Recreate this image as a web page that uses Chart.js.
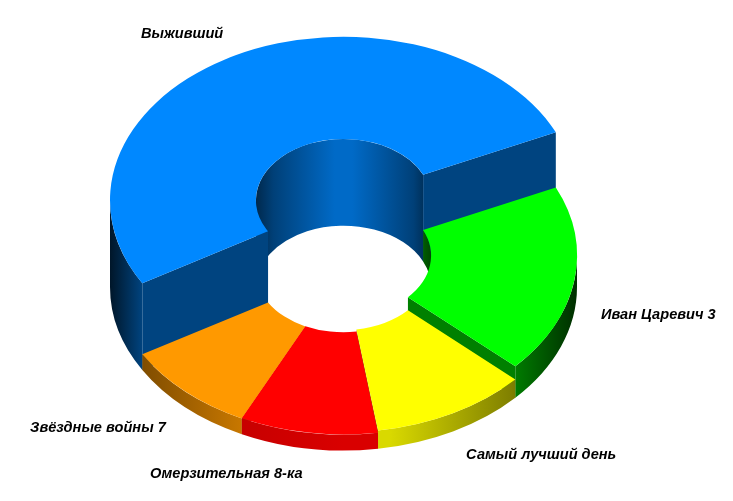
<!DOCTYPE html>
<html>
<head>
<meta charset="utf-8">
<style>
html, body { margin: 0; padding: 0; background: #fff; }
canvas { display: block; }
</style>
<script src="https://cdn.jsdelivr.net/npm/chart.js@4"></script>
</head>
<body>
<canvas id="canvas" width="733" height="501"></canvas>
<script>
var films = ['Выживший', 'Иван Царевич 3', 'Самый лучший день', 'Омерзительная 8-ка', 'Звёздные войны 7'];
var shares = [51.64, 18.67, 10.8, 9.53, 9.36];
var colors = ['#0088ff', '#00ff00', '#ffff00', '#ff0000', '#ff9900'];

// painter's order, back slices first
var drawOrder = [0, 1, 4, 2, 3];
var labelPos = [[141, 38], [601, 319], [466, 459], [150, 478], [30, 432]];

var baseY = 287;      // centre of the floor ellipse
var squash = 0.70;    // ellipse height / width
var heightPerShare = 1.68;

function shade(hex, f) {
	var r = parseInt(hex.substr(1, 2), 16), g = parseInt(hex.substr(3, 2), 16), b = parseInt(hex.substr(5, 2), 16);
	return 'rgb(' + Math.round(r * f) + ',' + Math.round(g * f) + ',' + Math.round(b * f) + ')';
}

function wallGradient(ctx, hex, cx, r, stops) {
	var grad = ctx.createLinearGradient(cx - r, 0, cx + r, 0);
	for (var i = 0; i < stops.length; i++) {
		grad.addColorStop(stops[i][0], shade(hex, stops[i][1]));
	}
	return grad;
}

// part of [a0,a1] which falls in [lo,hi] or in the same range one turn later
function visibleRange(a0, a1, lo, hi) {
	var res = [];
	for (var k = -1; k < 3; k++) {
		var s = Math.max(a0, lo + k * 2 * Math.PI), e = Math.min(a1, hi + k * 2 * Math.PI);
		if (e > s) res.push([s, e]);
	}
	return res;
}

function fillBand(ctx, cx, r, top, s, e, h, fill) {
	ctx.beginPath();
	ctx.ellipse(cx, top, r, r * squash, 0, s, e);
	ctx.ellipse(cx, top + h, r, r * squash, 0, e, s, true);
	ctx.closePath();
	ctx.fillStyle = fill;
	ctx.fill();
}

function fillEnd(ctx, cx, top, a, inner, outer, h, fill) {
	var c = Math.cos(a), s = Math.sin(a) * squash;
	ctx.beginPath();
	ctx.moveTo(cx + c * inner, top + s * inner);
	ctx.lineTo(cx + c * outer, top + s * outer);
	ctx.lineTo(cx + c * outer, top + s * outer + h);
	ctx.lineTo(cx + c * inner, top + s * inner + h);
	ctx.closePath();
	ctx.fillStyle = fill;
	ctx.fill();
}

var extrude = {
	id: 'extrude',
	beforeDatasetsDraw: function(chart) {
		var ctx = chart.ctx;
		var arcs = chart.getDatasetMeta(0).data;

		drawOrder.forEach(function(i) {
			var arc = arcs[i];
			var hex = colors[i];
			var h = shares[i] * heightPerShare;
			var top = baseY - h;
			var a0 = arc.startAngle, a1 = arc.endAngle;
			var ri = arc.innerRadius, ro = arc.outerRadius, cx = arc.x;

			// inner wall, only the far side of the hole shows
			var innerFill = wallGradient(ctx, hex, cx, ri, [[0, 0.3], [0.1, 0.47], [0.45, 0.78], [0.55, 0.78], [0.9, 0.47], [1, 0.28]]);
			visibleRange(a0, a1, Math.PI, 2 * Math.PI).forEach(function(p) {
				fillBand(ctx, cx, ri, top, p[0], p[1], h, innerFill);
			});

			// outer wall, only the near side shows
			var outerFill = wallGradient(ctx, hex, cx, ro, [[0, 0.16], [0.07, 0.5], [0.28, 0.78], [0.5, 0.85], [0.6, 0.85], [0.86, 0.5], [1, 0.18]]);
			visibleRange(a0, a1, 0, Math.PI).forEach(function(p) {
				fillBand(ctx, cx, ro, top, p[0], p[1], h, outerFill);
			});

			// cut ends
			var flat = shade(hex, 0.5);
			if (Math.cos(a0) < 0) fillEnd(ctx, cx, top, a0, ri, ro, h, flat);
			if (Math.cos(a1) > 0) fillEnd(ctx, cx, top, a1, ri, ro, h, flat);

			// top face is the library's own arc, squashed
			ctx.save();
			ctx.translate(0, top);
			ctx.scale(1, squash);
			ctx.translate(0, -arc.y);
			arc.draw(ctx);
			ctx.restore();
		});
		return false;
	},
	afterDraw: function(chart) {
		var ctx = chart.ctx;
		ctx.save();
		ctx.fillStyle = '#000';
		ctx.font = 'italic bold 14.6px "Liberation Sans", Arial, sans-serif';
		ctx.textAlign = 'left';
		ctx.textBaseline = 'alphabetic';
		for (var i = 0; i < films.length; i++) {
			ctx.fillText(films[i], labelPos[i][0], labelPos[i][1]);
		}
		ctx.restore();
	}
};

var chart = new Chart(document.getElementById('canvas').getContext('2d'), {
	type: 'doughnut',
	data: {
		labels: films,
		datasets: [{
			data: shares,
			backgroundColor: colors,
			borderWidth: 0
		}]
	},
	options: {
		responsive: false,
		maintainAspectRatio: false,
		animation: false,
		rotation: 239.5,
		cutout: '37.5%',
		layout: {
			padding: { left: 110, right: 156, top: 17, bottom: 17 }
		},
		plugins: {
			legend: { display: false },
			tooltip: { enabled: false }
		}
	},
	plugins: [extrude]
});
</script>
</body>
</html>
